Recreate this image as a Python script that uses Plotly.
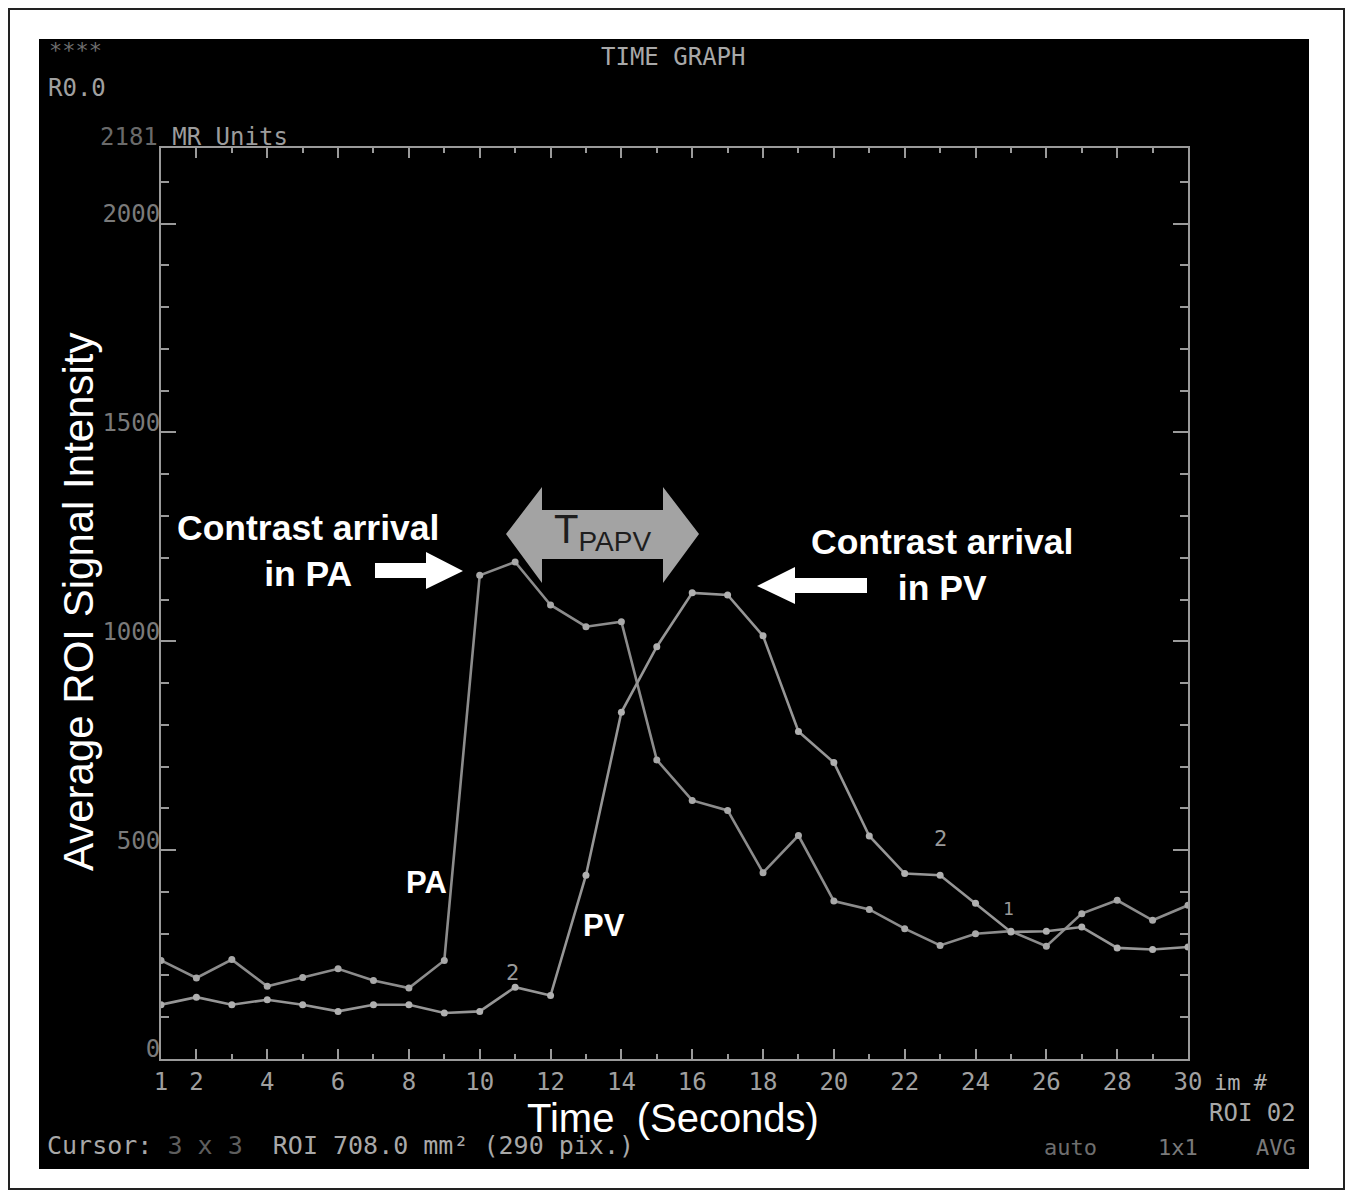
import plotly.graph_objects as go

# ---------------- data ----------------
time_s = list(range(1, 31))
pa_signal = [236, 194, 238, 174, 195, 216, 188, 170, 236, 1158,
             1190, 1087, 1035, 1047, 716, 619, 595, 446, 535, 378,
             358, 312, 272, 300, 306, 270, 348, 380, 332, 368]
pv_signal = [130, 148, 130, 142, 130, 114, 130, 130, 110, 114,
             172, 152, 440, 830, 987, 1116, 1111, 1013, 784, 710,
             534, 444, 440, 373, 304, 306, 316, 266, 262, 268]
x_tick_vals = [1, 2, 4, 6, 8, 10, 12, 14, 16, 18, 20, 22, 24, 26, 28, 30]
x_tick_text = [str(v) for v in x_tick_vals]
x_minor_vals = [3, 5, 7, 9, 11, 13, 15, 17, 19, 21, 23, 25, 27, 29]
y_tick_vals = [0, 500, 1000, 1500, 2000]
y_tick_text = ["0", "500", "1000", "1500", "2000"]
y_max = 2181

# ---------------- layout geometry ----------------
OFF = 8  # page body margin
W, H = 1337, 1183
L, R, T, B = 153, 157, 140, 132
PW, PH = W - L - R, H - T - B


def px(x):
    return (x - OFF - L) / PW


def py(y):
    return (H - B - (y - OFF)) / PH


MONO = "DejaVu Sans Mono"
SANS = "Liberation Sans"
AXC = "#9a9a9a"

fig = go.Figure()
fig.add_trace(go.Scatter(x=time_s, y=pa_signal, mode="lines+markers",
                         line=dict(color="#8c8c8c", width=2.6),
                         marker=dict(color="#a8a8a8", size=7),
                         name="PA", showlegend=False))
fig.add_trace(go.Scatter(x=time_s, y=pv_signal, mode="lines+markers",
                         line=dict(color="#969696", width=2.6),
                         marker=dict(color="#b0b0b0", size=7),
                         name="PV", showlegend=False))

shapes = []
# outer frame and black screen
shapes.append(dict(type="rect", xref="paper", yref="paper", layer="below",
                   x0=px(9), x1=px(1344), y0=py(9), y1=py(1189),
                   line=dict(color="#222", width=2), fillcolor="white"))
shapes.append(dict(type="rect", xref="paper", yref="paper", layer="below",
                   x0=px(39), x1=px(1309), y0=py(39), y1=py(1169),
                   line=dict(width=0), fillcolor="black"))


def path(points):
    return "M " + " L ".join(f"{px(a):.5f},{py(b):.5f}" for a, b in points) + " Z"


# double grey arrow (T_PAPV)
dbl = [(506, 534), (542, 487), (542, 510), (663, 510), (663, 487), (699, 534),
       (663, 583), (663, 559), (542, 559), (542, 583)]
shapes.append(dict(type="path", xref="paper", yref="paper", path=path(dbl),
                   fillcolor="#a3a3a3", line=dict(width=0)))
# white arrow -> PA
arr1 = [(375, 563), (426, 563), (426, 552), (463, 571), (426, 589), (426, 578), (375, 578)]
shapes.append(dict(type="path", xref="paper", yref="paper", path=path(arr1),
                   fillcolor="white", line=dict(width=0)))
# white arrow <- PV
arr2 = [(867, 578), (795, 578), (795, 567), (757, 586), (795, 604), (795, 593), (867, 593)]
shapes.append(dict(type="path", xref="paper", yref="paper", path=path(arr2),
                   fillcolor="white", line=dict(width=0)))

ann = []


def text(x, y, s, size, color, family=MONO, xanchor="center", weight="normal", angle=0):
    ann.append(dict(xref="paper", yref="paper", x=px(x), y=py(y), text=s,
                    showarrow=False, xanchor=xanchor, yanchor="middle",
                    textangle=angle,
                    font=dict(family=family, size=size, color=color, weight=weight)))


text(75, 50, "****", 22, "#6e6e6e")
text(77, 88, "R0.0", 24, "#a0a0a0")
text(673, 57, "TIME GRAPH", 24, "#a8a8a8")
text(98, 137, "<span style='color:#6a6a6a'>2181</span> MR Units", 24, "#9c9c9c", xanchor="left")
text(1241, 1082, "im #", 22, "#b0b0b0")
text(1252, 1113, "ROI 02", 24, "#a8a8a8")
text(673, 1118, "Time\u00a0 (Seconds)", 40, "white", family=SANS)
text(45, 1145, "Cursor: <span style='color:#5e5e5e'>3 x 3</span>\u00a0 ROI 708.0 mm\u00b2 (290 pix.)",
     25, "#a8a8a8", xanchor="left")
text(1070, 1147, "auto", 22, "#6e6e6e")
text(1178, 1147, "1x1", 22, "#7a7a7a")
text(1276, 1147, "AVG", 22, "#7a7a7a")
text(78, 602, "Average ROI Signal Intensity", 42, "white", family=SANS, angle=-90)

text(308, 551, "Contrast arrival<br>in PA", 35.5, "white", family=SANS, weight="bold")
text(942, 565, "Contrast arrival<br>in PV", 35.5, "white", family=SANS, weight="bold")
text(426, 882, "PA", 31, "white", family=SANS, weight="bold")
text(604, 925, "PV", 31, "white", family=SANS, weight="bold")
text(602, 532, "T<sub>PAPV</sub>", 40, "#1e1e1e", family=SANS)
text(512, 972, "2", 22, "#9a9a9a")
text(940, 838, "2", 22, "#9a9a9a")
text(1008, 908, "1", 18, "#9a9a9a")

fig.update_layout(
    width=W, height=H, autosize=False,
    margin=dict(l=L, r=R, t=T, b=B, pad=0),
    paper_bgcolor="white", plot_bgcolor="black",
    shapes=shapes, annotations=ann, showlegend=False,
    xaxis=dict(range=[1, 30], tickmode="array", tickvals=x_tick_vals, ticktext=x_tick_text,
               ticks="inside", ticklen=10, tickwidth=2, tickcolor=AXC,
               showline=True, linecolor=AXC, linewidth=2, mirror="allticks",
               showgrid=False, zeroline=False,
               tickfont=dict(family=MONO, size=24, color="#a0a0a0"),
               minor=dict(tickvals=x_minor_vals, ticks="inside", ticklen=5,
                          tickwidth=2, tickcolor=AXC, showgrid=False)),
    yaxis=dict(range=[0, y_max], tickmode="array", tickvals=y_tick_vals, ticktext=y_tick_text,
               ticks="inside", ticklen=15, tickwidth=2, tickcolor=AXC,
               showline=True, linecolor=AXC, linewidth=2, mirror="allticks",
               showgrid=False, zeroline=False, ticklabelstandoff=-6, ticklabelshift=-10,
               tickfont=dict(family=MONO, size=24, color="#7a7a7a"),
               minor=dict(dtick=100, tick0=0, ticks="inside", ticklen=8,
                          tickwidth=2, tickcolor=AXC, showgrid=False)),
)

fig.write_html("out.html")
